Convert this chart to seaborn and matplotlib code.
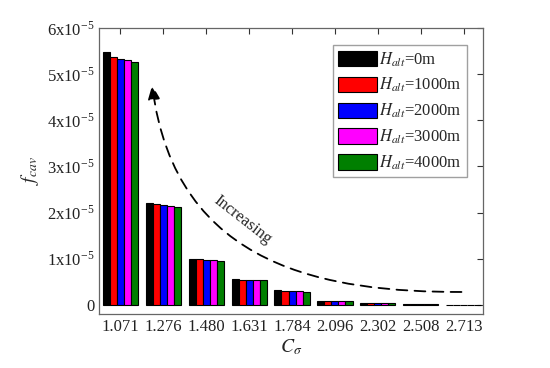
import matplotlib
matplotlib.use("Agg")
import matplotlib.pyplot as plt
import numpy as np
import pandas as pd
import seaborn as sns
from matplotlib.patches import FancyArrowPatch
from matplotlib.path import Path
from matplotlib.ticker import FuncFormatter, MultipleLocator

c_sigma = ["1.071", "1.276", "1.480", "1.631", "1.784", "2.096", "2.302", "2.508", "2.713"]
altitudes = ["0m", "1000m", "2000m", "3000m", "4000m"]
colors = ["#000000", "#ff0000", "#0000ff", "#ff00ff", "#007f00"]

# f_cav in units of 1e-5, one list per altitude
h0 = [5.48, 2.20, 0.99, 0.56, 0.32, 0.09, 0.04, 0.015, 0.005]
h1000 = [5.37, 2.19, 0.99, 0.55, 0.31, 0.085, 0.038, 0.014, 0.005]
h2000 = [5.33, 2.17, 0.97, 0.55, 0.31, 0.085, 0.037, 0.013, 0.004]
h3000 = [5.31, 2.15, 0.97, 0.54, 0.30, 0.08, 0.036, 0.013, 0.004]
h4000 = [5.26, 2.13, 0.96, 0.53, 0.28, 0.075, 0.035, 0.012, 0.004]

sns.set_style("white")
plt.rcParams["font.family"] = ["Liberation Serif", "DejaVu Serif"]
plt.rcParams["mathtext.fontset"] = "stix"

series = [h0, h1000, h2000, h3000, h4000]
rows = []
for alt, vals in zip(altitudes, series):
    for c, v in zip(c_sigma, vals):
        rows.append({"C": c, "alt": r"$H_{alt}$=" + alt, "f": v * 1e-5})
df = pd.DataFrame(rows)

fig = plt.figure(figsize=(5.5, 3.68), dpi=100)
ax = fig.add_axes([0.18, 0.147, 0.698, 0.777])

sns.barplot(
    data=df,
    x="C",
    y="f",
    hue="alt",
    palette=colors,
    width=0.82,
    edgecolor="black",
    linewidth=0.8,
    saturation=1,
    ax=ax,
)

ax.set_xlim(-0.5, 8.45)
ax.set_ylim(-0.195e-5, 6e-5)
ax.yaxis.set_major_locator(MultipleLocator(1e-5))
ax.yaxis.set_major_formatter(
    FuncFormatter(lambda v, p: "0" if abs(v) < 1e-9 else "%dx10$^{\\mathregular{-5}}$" % round(v * 1e5))
)
ax.tick_params(direction="in", top=True, right=True, length=4, width=0.8,
               labelsize=12, colors="#333333", labelcolor="#222222")
for s in ax.spines.values():
    s.set_color("#666666")
    s.set_linewidth(0.9)

ax.set_xlabel(r"$C_{\sigma}$", fontsize=14, labelpad=2)
ax.set_ylabel(r"$f_{cav}$", fontsize=14, labelpad=4)

# dashed "increasing" trend arrow (cubic bezier, data coords)
trend = Path(
    [(7.95, 0.28e-5), (4.88, 0.28e-5), (1.28, 0.76e-5), (0.74, 4.76e-5)],
    [Path.MOVETO, Path.CURVE4, Path.CURVE4, Path.CURVE4],
)
ax.add_patch(FancyArrowPatch(
    path=trend,
    arrowstyle="-|>,head_length=0.7,head_width=0.3",
    mutation_scale=12,
    color="black",
    linestyle=(0, (6, 4)),
    linewidth=1.3,
    transform=ax.transData,
))
ax.text(2.85, 1.85e-5, "Increasing", rotation=-38, fontsize=12, ha="center", va="center")

ax.legend(
    loc="upper right",
    bbox_to_anchor=(0.958, 0.94),
    borderaxespad=0,
    fontsize=12,
    frameon=True,
    fancybox=False,
    edgecolor="#888888",
    handlelength=2.35,
    handleheight=1.05,
    handletextpad=0.15,
    labelspacing=0.45,
    borderpad=0.3,
    title=None,
)

fig.savefig("out.png", dpi=100)
